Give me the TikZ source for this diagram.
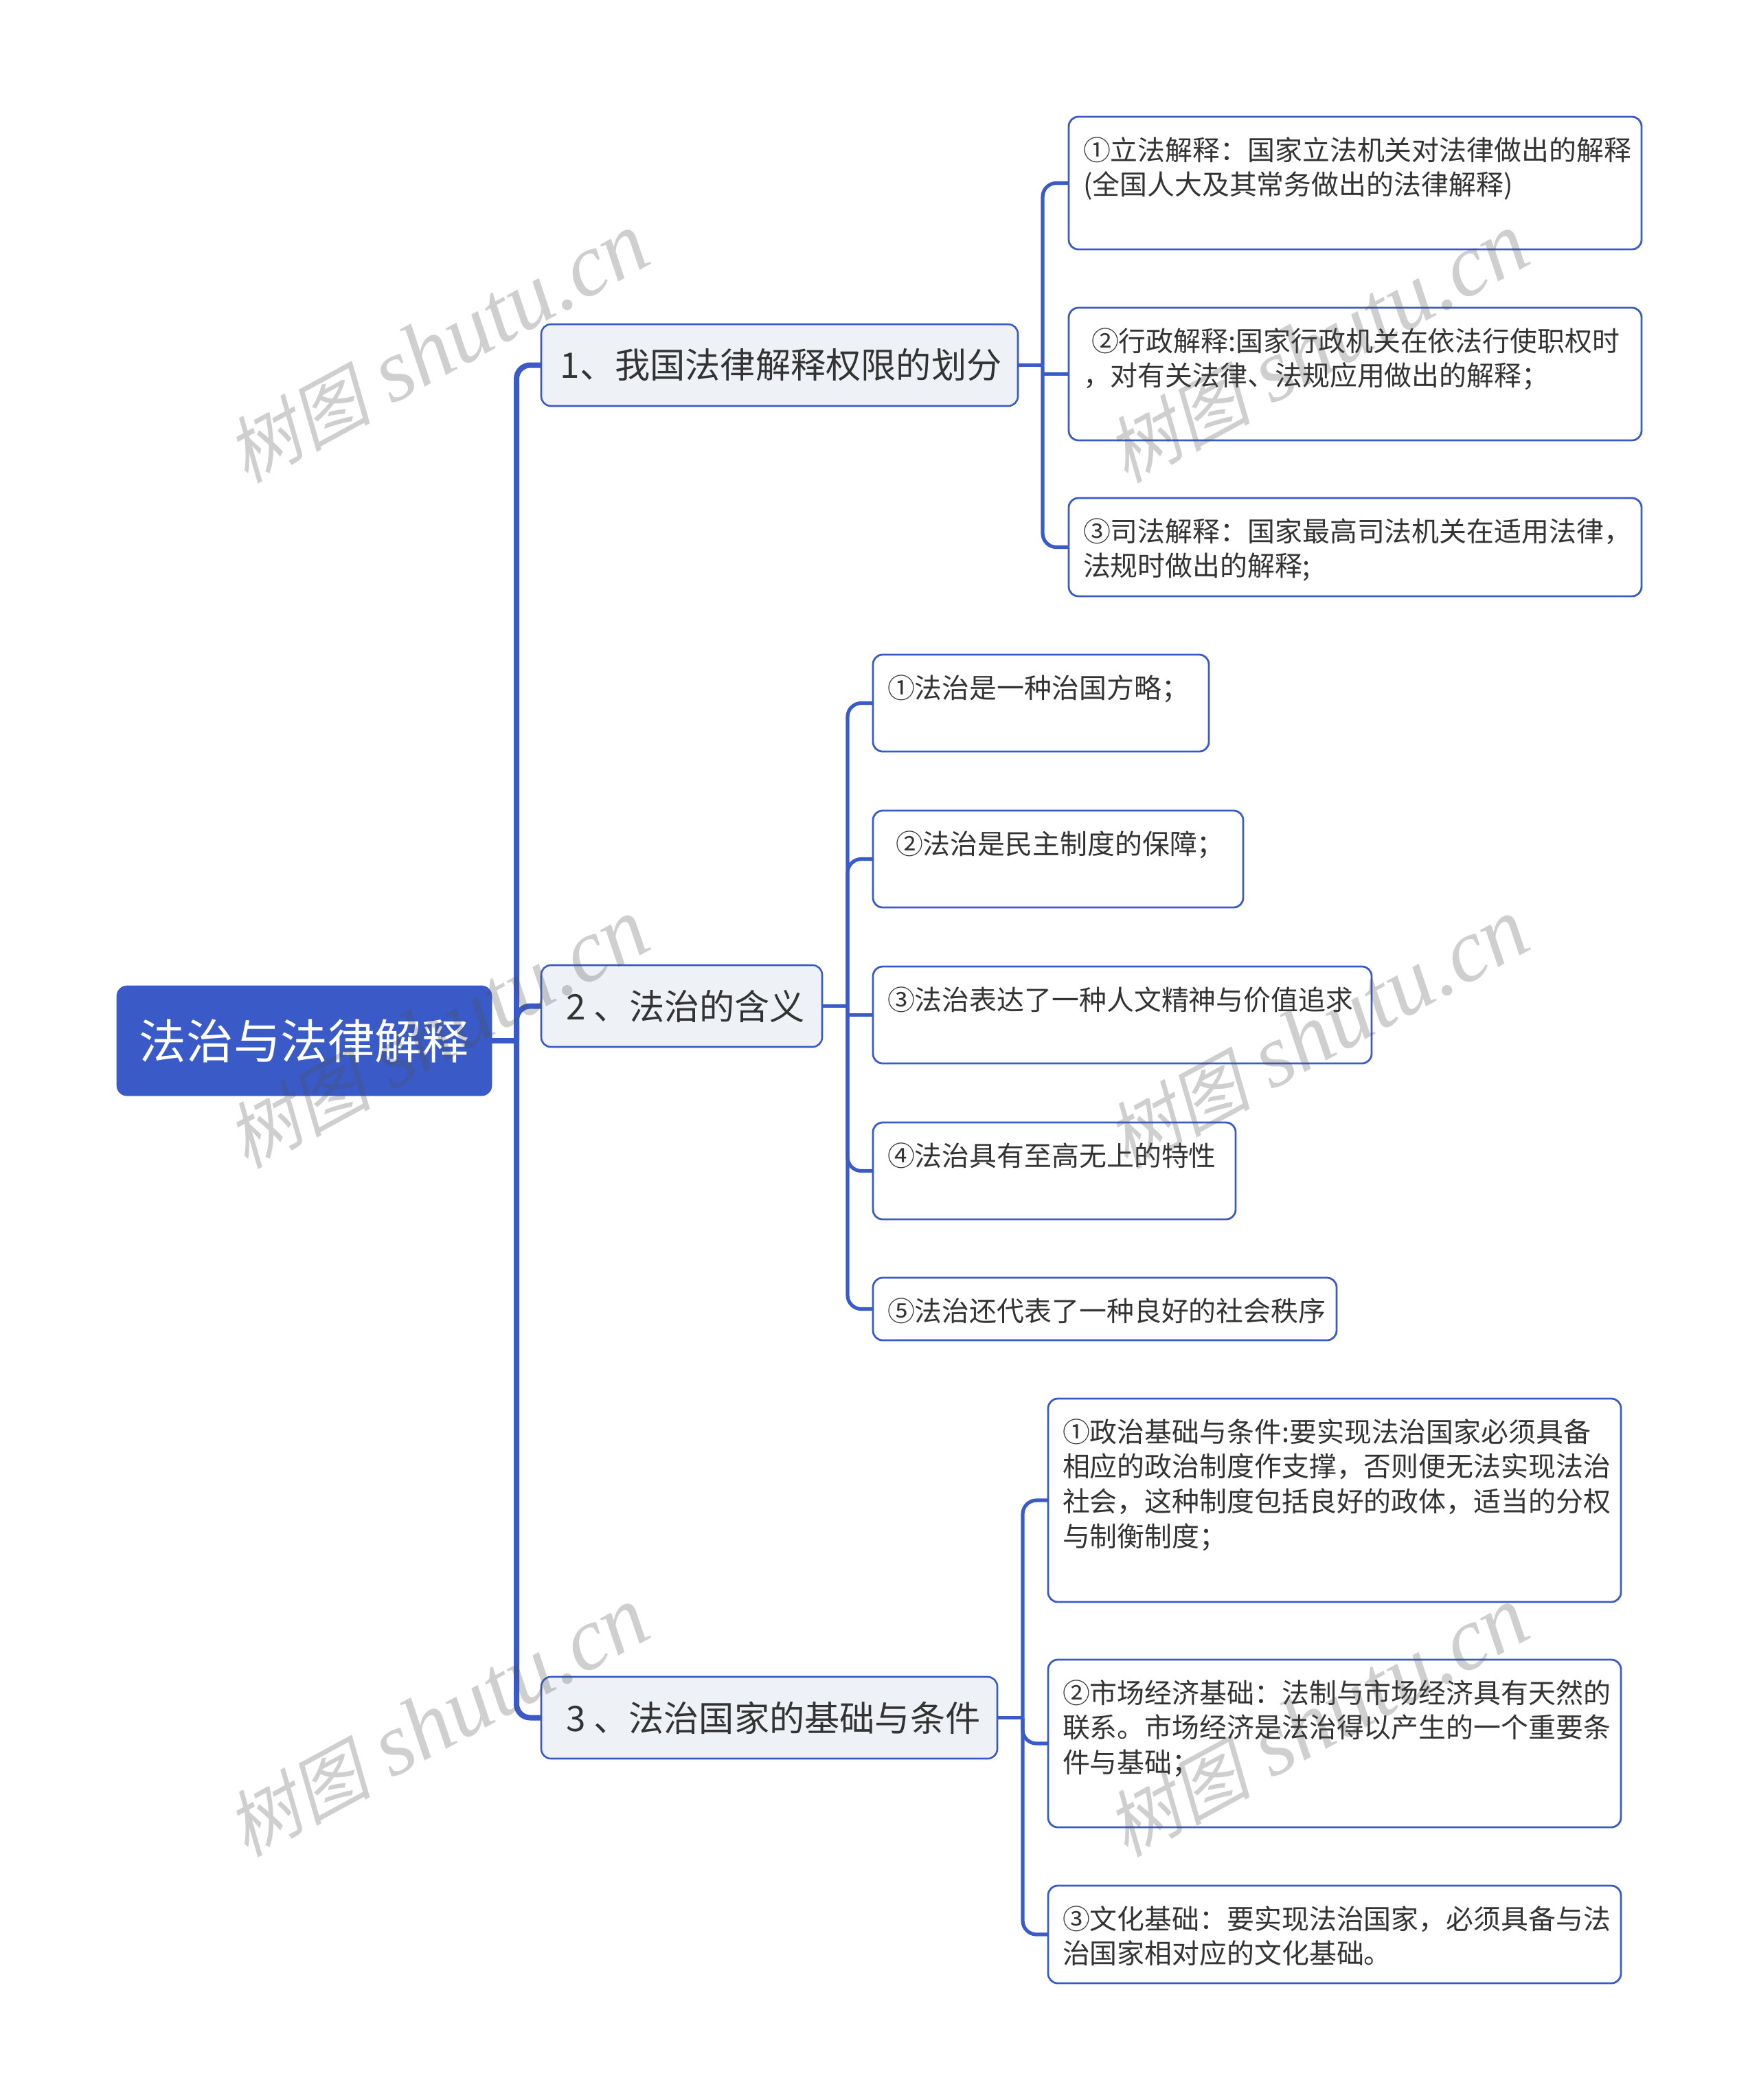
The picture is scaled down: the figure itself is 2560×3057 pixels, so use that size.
\documentclass[tikz,border=0pt]{standalone}
\usepackage{fontspec}
\setmainfont{Noto Sans CJK SC}
\newfontfamily\markcjk[FakeSlant=0.22]{Noto Sans CJK SC}
\newfontfamily\marklatin{Liberation Serif}[ItalicFont=* Italic]
\definecolor{mapblue}{HTML}{3A5AC8}
\definecolor{topicfill}{HTML}{EEF2F6}
\definecolor{inkgray}{HTML}{333333}
\begin{document}
\begin{tikzpicture}[x=0.5pt, y=-0.5pt,
  every node/.style={outer sep=0pt},
  root/.style={fill=mapblue, draw=mapblue, rounded corners=7.5pt, text=white, minimum width=273pt, minimum height=80pt, anchor=north west, font=\fontsize{34.3}{40}\selectfont},
  topic/.style={fill=topicfill, draw=mapblue, line width=1.3pt, rounded corners=7pt, text=inkgray, minimum height=59.5pt, anchor=north west, font=\fontsize{25.6}{30}\selectfont},
  leaf/.style 2 args={draw=mapblue, line width=1.4pt, rounded corners=7pt, text=inkgray, anchor=north west, align=left, inner xsep=10.5pt, inner ysep=10pt, text height=21.5pt, text width=#1/2-21pt, text depth=#2/2-41.5pt, font=\fontsize{19.95}{25.4}\selectfont},
  stem/.style={draw=mapblue, line width=4pt, rounded corners=10pt},
  twig/.style={draw=mapblue, line width=2.6pt, rounded corners=10pt},
  stamp/.style={rotate=28.5, text=gray!62!black, text opacity=0.27, font=\fontsize{65}{68}\selectfont}]
\useasboundingbox (0,0) rectangle (2560,3057);
\node[root] (root) at (170,1435) {法治与法律解释};
\node[topic, minimum width=347pt] (topic1) at (788,472) {\hspace*{2pt}1、我国法律解释权限的划分};
\node[topic, minimum width=204.5pt] (topic2) at (788,1405) {\hspace*{6pt}2 、法治的含义};
\node[topic, minimum width=332pt] (topic3) at (788,2441) {\hspace*{6pt}3 、法治国家的基础与条件};
\node[leaf={834pt}{193pt}] (kind1) at (1556,170) {①立法解释：国家立法机关对法律做出的解释\\(全国人大及其常务做出的法律解释)};
\node[leaf={834pt}{193pt}] (kind2) at (1556,448) {\hspace*{6pt}②行政解释:国家行政机关在依法行使职权时\\，对有关法律、法规应用做出的解释；};
\node[leaf={834pt}{143pt}] (kind3) at (1556,725) {③司法解释：国家最高司法机关在适用法律，\\法规时做出的解释;};
\node[leaf={489pt}{141pt}] (mean1) at (1271,953) {①法治是一种治国方略；};
\node[leaf={539pt}{141pt}] (mean2) at (1271,1180) {\hspace*{6pt}②法治是民主制度的保障；};
\node[leaf={726pt}{141pt}] (mean3) at (1271,1407) {③法治表达了一种人文精神与价值追求};
\node[leaf={528pt}{141pt}] (mean4) at (1271,1634) {④法治具有至高无上的特性};
\node[leaf={675pt}{91pt}] (mean5) at (1271,1860) {⑤法治还代表了一种良好的社会秩序};
\node[leaf={834pt}{296pt}] (base1) at (1526,2036) {①政治基础与条件:要实现法治国家必须具备\\相应的政治制度作支撑，否则便无法实现法治\\社会，这种制度包括良好的政体，适当的分权\\与制衡制度；};
\node[leaf={834pt}{244pt}] (base2) at (1526,2416) {②市场经济基础：法制与市场经济具有天然的\\联系。市场经济是法治得以产生的一个重要条\\件与基础；};
\node[leaf={834pt}{142pt}] (base3) at (1526,2745) {③文化基础：要实现法治国家，必须具备与法\\治国家相对应的文化基础。};
\coordinate (trunk) at ([xshift=18pt]root.east);
\coordinate (bus1) at ([xshift=18pt]topic1.east);
\coordinate (bus2) at ([xshift=18.5pt]topic2.east);
\coordinate (bus3) at ([xshift=18.5pt]topic3.east);
\draw[stem] (root.east) -- (trunk);
\draw[stem] (trunk) |- (topic1.west);
\draw[stem] (trunk) |- (topic2.west);
\draw[stem] (trunk) |- (topic3.west);
\draw[twig] (topic1.east) -- (bus1);
\draw[twig] (bus1) |- (kind1.west);
\draw[twig] (kind2.west -| bus1) -- (kind2.west);
\draw[twig] (bus1) |- (kind3.west);
\draw[twig] (topic2.east) -- (bus2);
\draw[twig] (bus2) |- (mean1.west);
\draw[twig] (bus2) |- (mean2.west);
\draw[twig] (mean3.west -| bus2) -- (mean3.west);
\draw[twig] (bus2) |- (mean4.west);
\draw[twig] (bus2) |- (mean5.west);
\draw[twig] (topic3.east) -- (bus3);
\draw[twig] (bus3) |- (base1.west);
\draw[twig] (bus3) |- (base2.west);
\draw[twig] (bus3) |- (base3.west);
\node[stamp] (mark1) at (637,507) {{\markcjk\fontsize{52.8}{68}\selectfont 树图} {\marklatin\itshape shutu.cn}};
\node[stamp] (mark2) at (1918,507) {{\markcjk\fontsize{52.8}{68}\selectfont 树图} {\marklatin\itshape shutu.cn}};
\node[stamp] (mark3) at (637,1505) {{\markcjk\fontsize{52.8}{68}\selectfont 树图} {\marklatin\itshape shutu.cn}};
\node[stamp] (mark4) at (1918,1505) {{\markcjk\fontsize{52.8}{68}\selectfont 树图} {\marklatin\itshape shutu.cn}};
\node[stamp] (mark5) at (637,2507) {{\markcjk\fontsize{52.8}{68}\selectfont 树图} {\marklatin\itshape shutu.cn}};
\node[stamp] (mark6) at (1918,2507) {{\markcjk\fontsize{52.8}{68}\selectfont 树图} {\marklatin\itshape shutu.cn}};
\end{tikzpicture}
\end{document}
